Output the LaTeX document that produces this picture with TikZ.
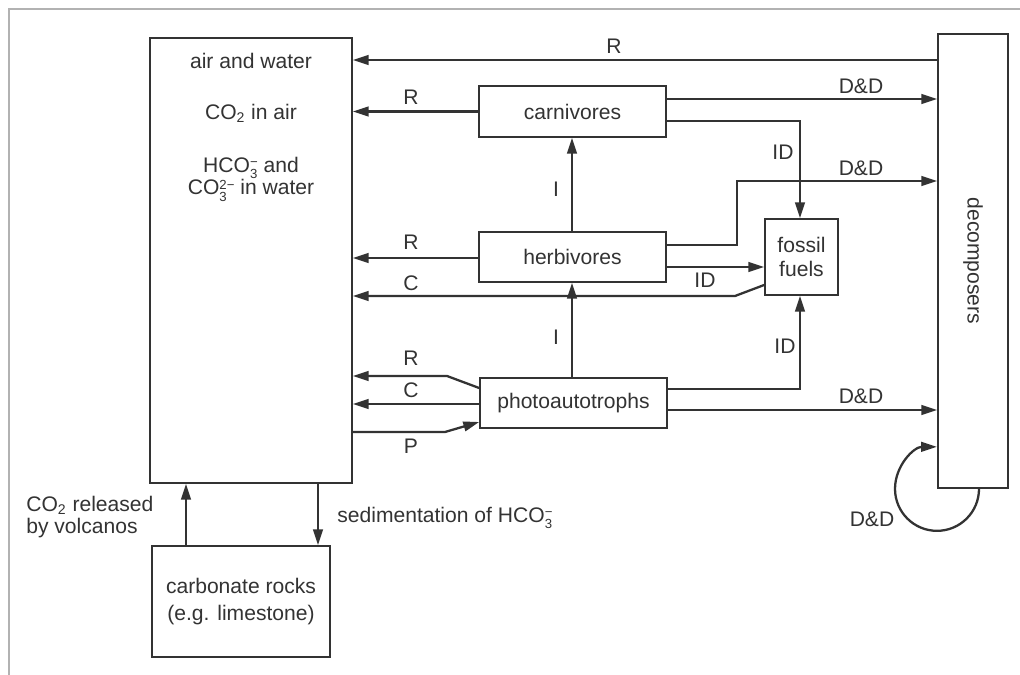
\documentclass[tikz,border=0pt]{standalone}
\usepackage{fontspec}
\setmainfont{Liberation Sans}
\usetikzlibrary{arrows.meta}
% stacked sub- and superscript for ions, set as one box
\newcommand\ionsc[2]{\raisebox{-0.55ex}{\fontsize{7.5}{7.5}\selectfont\shortstack[l]{#2\\[-1.5pt]#1}}}
\definecolor{ink}{HTML}{333333}
\begin{document}
\begin{tikzpicture}[x=0.02cm, y=-0.02cm,
  every node/.style={text=ink, font=\fontsize{12}{14}\selectfont},
  box/.style={draw=ink, line width=1pt, fill=white, inner sep=0pt},
  lbl/.style={inner sep=0pt},
  arr/.style={draw=ink, line width=1.3pt, -{Triangle[length=9pt,width=5.5pt]}},
  frame/.style={draw=gray!60, line width=1pt}]
\useasboundingbox (0,0) rectangle (1020,675);
\draw[frame] (9,675) -- (9,9) -- (1020,9);

% boxes
\node[box, minimum width=4.04cm, minimum height=8.9cm] (air) at (251,260.5) {};
\node[lbl] (airt1) at (251,61) {air and water};
\node[lbl] (airt2) at (251,113) {CO\textsubscript{2} in air};
\node[lbl, align=center] (airt3) at (251,179)
  {HCO\ionsc{3}{−} and\\[-1pt]CO\ionsc{3}{2−} in water};
\node[box, minimum width=3.74cm, minimum height=1.02cm] (carn) at (572.5,111.5) {carnivores};
\node[box, minimum width=3.74cm, minimum height=1.0cm] (herb) at (572.5,257) {herbivores};
\node[box, minimum width=3.74cm, minimum height=1.0cm] (photo) at (573.5,403) {photoautotrophs};
\node[box, minimum width=1.46cm, minimum height=1.52cm, align=center] (fossil) at (801.5,257) {fossil\\fuels};
\node[box, minimum width=1.4cm, minimum height=9.08cm] (decomp) at (973,261) {};
\node[lbl, rotate=-90] (decompt) at (973,261) {decomposers};
\node[box, minimum width=3.56cm, minimum height=2.22cm, align=center] (rocks) at (241,601.5)
  {carbonate rocks\\[1pt](e.g. limestone)};

% respiration and flows back to air and water
\draw[arr] (decomp.west |- 0,60) -- (air.east |- 0,60);
\node[lbl] (r1) at (614,46) {R};
\draw[arr] (carn.west) -- (air.east |- carn.west);
\node[lbl] (r2) at (411,97) {R};
\draw[arr] (herb.west |- 0,258) -- (air.east |- 0,258);
\node[lbl] (r3) at (411,242) {R};
\draw[arr] (fossil.west |- 0,285) -- (735,296) -- (air.east |- 0,296);
\node[lbl] (c1) at (411,283) {C};
\draw[arr] (photo.west |- 0,388) -- (447,376) -- (air.east |- 0,376);
\node[lbl] (r4) at (411,358) {R};
\draw[arr] (photo.west |- 0,404) -- (air.east |- 0,404);
\node[lbl] (c2) at (411,390) {C};
\draw[arr] (air.east |- 0,432) -- (445,432) -- (photo.west |- 0,422);
\node[lbl] (p1) at (411,446) {P};

% ingestion
\draw[arr] (photo.north -| 572,0) -- (herb.south -| 572,0);
\node[lbl] (i1) at (556,337) {I};
\draw[arr] (herb.north -| 572,0) -- (carn.south -| 572,0);
\node[lbl] (i2) at (556,189) {I};

% death and decay to decomposers
\draw[arr] (carn.east |- 0,99) -- (decomp.west |- 0,99);
\node[lbl] (dd1) at (861,86) {D\&D};
\draw[arr] (herb.east |- 0,245) -- (737,245) -- (737,181) -- (decomp.west |- 0,181);
\node[lbl] (dd2) at (861,168) {D\&D};
\draw[arr] (photo.east |- 0,410) -- (decomp.west |- 0,410);
\node[lbl] (dd3) at (861,396) {D\&D};
\draw[arr] (decomp.south -| 979,0) arc[start angle=0, end angle=270, radius=42];
\node[lbl] (dd4) at (872,519) {D\&D};

% incomplete decomposition to fossil fuels
\draw[arr] (carn.east |- 0,121) -- (800,121) -- (fossil.north -| 800,0);
\node[lbl] (id1) at (783,152) {ID};
\draw[arr] (herb.east |- 0,267) -- (fossil.west |- 0,267);
\node[lbl] (id2) at (705,280) {ID};
\draw[arr] (photo.east |- 0,389) -- (800,389) -- (fossil.south -| 800,0);
\node[lbl] (id3) at (785,346) {ID};

% exchange with carbonate rocks
\draw[arr] (rocks.north -| 186,0) -- (air.south -| 186,0);
\node[lbl, align=left, anchor=west] (volc) at (26,517)
  {CO\textsubscript{2} released\\[-1pt]by volcanos};
\draw[arr] (air.south -| 318,0) -- (rocks.north -| 318,0);
\node[lbl, anchor=west] (sed) at (337,518) {sedimentation of HCO\ionsc{3}{−}};
\end{tikzpicture}
\end{document}
